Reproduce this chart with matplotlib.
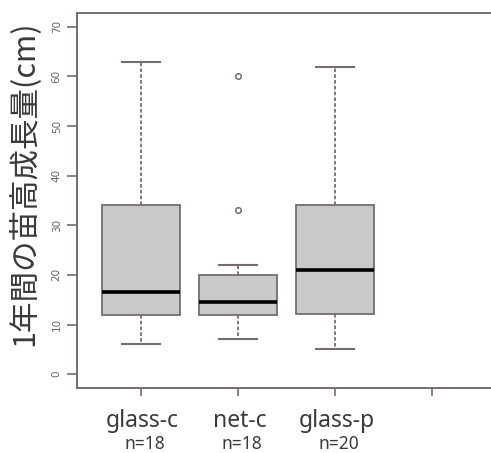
import matplotlib
matplotlib.use("Agg")
import matplotlib.pyplot as plt

plt.rcParams['font.family'] = ['Noto Sans CJK JP', 'DejaVu Sans']

groups = ["glass-c", "net-c", "glass-p"]
counts = ["n=18", "n=18", "n=20"]
q1 = [12, 12, 12.2]
medians = [16.5, 14.5, 21]
q3 = [34, 20, 34]
whisk_lo = [6, 7, 5]
whisk_hi = [63, 22, 62]
outliers = [[], [33, 60], []]
y_ticks = [0, 10, 20, 30, 40, 50, 60, 70]
ylabel = "1年間の苗高成長量(cm)"

edge = "#756d6a"
fill = "#c9c9c9"
text_col = "#3a3a3a"

fig = plt.figure(figsize=(4.91, 4.53), dpi=100)
ax = fig.add_axes([77 / 491, 65 / 453, 419 / 491, 375 / 453])

stats = []
for i in range(len(groups)):
    stats.append(dict(q1=q1[i], med=medians[i], q3=q3[i],
                      whislo=whisk_lo[i], whishi=whisk_hi[i],
                      fliers=outliers[i], label=groups[i]))

ax.bxp(stats, positions=[1, 2, 3], widths=0.8, patch_artist=True,
       showfliers=True,
       boxprops=dict(facecolor=fill, edgecolor=edge, linewidth=1.3),
       medianprops=dict(color="black", linewidth=2.6),
       whiskerprops=dict(color=edge, linewidth=1.3, linestyle=(0, (2, 1.2))),
       capprops=dict(color=edge, linewidth=1.5),
       capwidths=0.4,
       flierprops=dict(marker="o", markersize=4, markerfacecolor="none",
                       markeredgecolor=edge, markeredgewidth=1.1))

ax.set_xlim(0.34, 4.66)
ax.set_ylim(-2.8, 72.8)

ax.set_xticks([1, 2, 3, 4])
ax.set_xticklabels([])
ax.set_yticks(y_ticks)
ax.set_yticklabels([str(t) for t in y_ticks], rotation=90, va="center",
                   fontsize=7.5, color="#666666", family="DejaVu Sans")
ax.tick_params(axis="y", length=7, width=1.2, color=edge, pad=4)
ax.tick_params(axis="x", length=6, width=1.2, color=edge)

for s in ax.spines.values():
    s.set_color(edge)
    s.set_linewidth(1.4)

for i, (g, n) in enumerate(zip(groups, counts)):
    ax.annotate(g, xy=(i + 1, 0), xycoords=("data", "axes fraction"),
                xytext=(1, -23.5), textcoords="offset points",
                ha="center", va="center", fontsize=16.5, color=text_col,
                family="Noto Sans")
    ax.annotate(n, xy=(i + 1, 0), xycoords=("data", "axes fraction"),
                xytext=(3, -40.5), textcoords="offset points",
                ha="center", va="center", fontsize=12.5, color=text_col,
                family="Noto Sans")

fig.text(23 / 491, 1 - 183 / 453, ylabel, rotation=90, ha="center",
         va="center", fontsize=22, color=text_col)

fig.savefig("out.png", dpi=100)
